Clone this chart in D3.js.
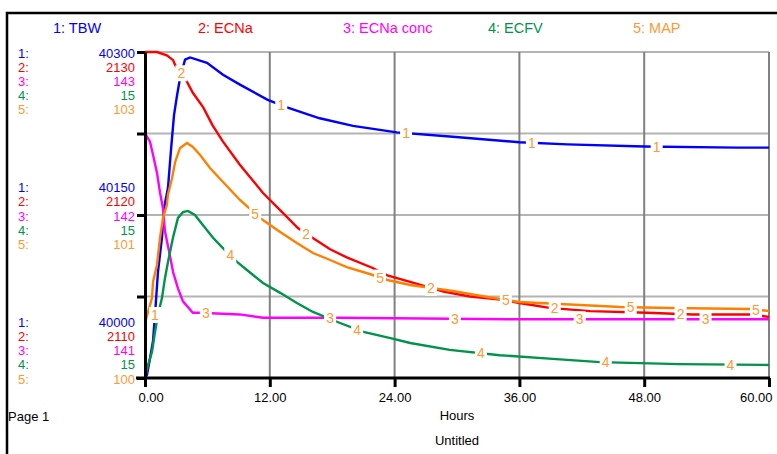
<!DOCTYPE html>
<html><head><meta charset="utf-8">
<script src="https://cdn.jsdelivr.net/npm/d3@7"></script>
<style>
body{margin:0;background:#fff;}
svg text{font-family:"Liberation Sans",Arial,sans-serif;}
</style>
</head><body><svg id="c" width="777" height="454"></svg>
<script>
// ---------- data ----------
const seriesNames = ["1: TBW","2: ECNa","3: ECNa conc","4: ECFV","5: MAP"];
const seriesColors = ["#0000ff","#ff0000","#ff00ff","#00934a","#ff8000"];
const textColors  = ["#0000ff","#ff0000","#ff00ff","#00934a","#ff9933"];

// axis domains (bottom, top) and printed tick labels (bottom, middle, top)
const tbwDomain = [40000, 40300];   const tbwLabels = ["40000","40150","40300"];
const ecnaDomain = [2110, 2130];    const ecnaLabels = ["2110","2120","2130"];
const concDomain = [141, 143];      const concLabels = ["141","142","143"];
const ecfvDomain = [14.6, 15.4];    const ecfvLabels = ["15","15","15"];
const mapDomain = [100, 103];       const mapLabels = ["100","101","103"];

const xTicks = [0, 12, 24, 36, 48, 60];
const xTickLabels = ["0.00","12.00","24.00","36.00","48.00","60.00"];

const tbwHours = [0,0.19,0.48,0.77,0.96,1.25,1.63,1.83,2.21,2.5,2.79,3.08,3.37,3.85,4.33,5.96,7.5,9.13,11.8,13.65,16.8,20,24.2,29.6,36,40.6,48,57,60];
const tbwValues = [40000,40003,40018,40034,40058,40098,40129,40156,40175,40210,40242,40260,40276,40293,40295,40290,40279,40270,40256,40249,40239,40232,40226,40222,40217,40215,40213,40212,40212];

const ecnaHours = [0,1.15,2.1,2.7,2.9,3.85,4.6,5.6,6.5,7.5,9.1,11.35,13.3,14.7,16.1,17.8,19.4,21.9,23.3,25.5,28.7,31.25,34.4,36,38.9,42.8,48.3,52.7,58.2,60];
const ecnaValues = [2130.0,2130.0,2129.8,2129.5,2129.2,2128.4,2127.5,2126.6,2125.5,2124.5,2123.1,2121.35,2120.1,2119.2,2118.6,2117.9,2117.4,2116.75,2116.3,2115.9,2115.3,2115.0,2114.8,2114.6,2114.3,2114.1,2114.0,2113.9,2113.9,2113.75];

const concHours = [0,0.48,0.77,1.15,1.44,1.73,1.92,2.4,2.7,3.17,3.65,4.6,5.3,9.1,11.35,18.5,34.8,60];
const concValues = [142.50,142.45,142.37,142.26,142.14,142.04,141.90,141.75,141.65,141.55,141.47,141.40,141.40,141.39,141.37,141.37,141.36,141.36];

const ecfvHours = [0,0.29,0.67,0.96,1.25,1.63,1.92,2.21,2.69,3.17,3.65,4.13,4.8,5.58,6.54,7.4,8.85,9.8,11.35,13,14.6,16.15,18.75,21,23.6,25.5,29.3,34.1,39.2,43.75,51.4,60];
const ecfvValues = [14.600,14.632,14.664,14.713,14.755,14.796,14.845,14.885,14.944,14.993,15.007,15.010,15.000,14.975,14.944,14.921,14.885,14.865,14.833,14.809,14.784,14.762,14.735,14.713,14.698,14.686,14.669,14.656,14.647,14.639,14.634,14.632];

const mapHours = [0,0.29,0.67,0.77,1.15,1.44,1.73,2.1,2.2,2.6,2.9,3.37,4.04,4.6,5.3,6.25,7.5,9.13,11.06,13,14.6,16.15,17.8,19.4,21.6,23.3,25.5,29.6,32.9,36,39.9,45.7,50.5,58.2,60];
const mapValues = [100.506,100.607,100.736,100.883,101.040,101.288,101.472,101.592,101.684,101.840,101.988,102.117,102.163,102.126,102.052,101.933,101.804,101.638,101.472,101.344,101.242,101.150,101.086,101.021,100.957,100.902,100.856,100.801,100.745,100.699,100.681,100.653,100.644,100.635,100.617];

// times (hours) at which each series' number label sits on its curve
const labelHours1 = [0.96, 13.1, 25.1, 37.2, 49.2];
const labelHours2 = [3.5, 15.5, 27.5, 39.4, 51.5];
const labelHours3 = [5.85, 17.8, 29.8, 41.8, 53.9];
const labelHours4 = [8.2, 20.4, 32.3, 44.3, 56.3];
const labelHours5 = [10.6, 22.6, 34.7, 46.7, 58.75];

// ---------- assemble ----------
const series = [
  {hours: tbwHours, values: tbwValues, domain: tbwDomain, labels: tbwLabels, lab: labelHours1},
  {hours: ecnaHours, values: ecnaValues, domain: ecnaDomain, labels: ecnaLabels, lab: labelHours2},
  {hours: concHours, values: concValues, domain: concDomain, labels: concLabels, lab: labelHours3},
  {hours: ecfvHours, values: ecfvValues, domain: ecfvDomain, labels: ecfvLabels, lab: labelHours4},
  {hours: mapHours, values: mapValues, domain: mapDomain, labels: mapLabels, lab: labelHours5}
];

const svg = d3.select("#c");
const X0 = 145, X1 = 769, YT = 52, YB = 378;
const x = d3.scaleLinear().domain([0, 60]).range([X0, X1]);
series.forEach(s => { s.y = d3.scaleLinear().domain(s.domain).range([YB, YT]); });
const frac = d3.scaleLinear().domain([0, 1]).range([YB, YT]);

// outer frame
svg.append("path").attr("d", `M7,454V13H777`).attr("fill","none").attr("stroke","#000").attr("stroke-width",2.5);

// legend
svg.append("g").selectAll("text").data(seriesNames).join("text")
  .attr("x", (d,i) => 53 + i*145).attr("y", 33)
  .attr("font-size", 14.5).attr("fill", (d,i) => textColors[i]).text(d => d);

// grid
const grid = svg.append("g");
grid.selectAll("line.h").data([0.25, 0.5, 0.75, 1]).join("line").attr("class","h")
  .attr("x1", X0).attr("x2", X1).attr("y1", d => frac(d)).attr("y2", d => frac(d))
  .attr("stroke", "#b4b4b4").attr("stroke-width", 2);
grid.selectAll("line.v").data(xTicks.slice(1)).join("line").attr("class","v")
  .attr("x1", d => x(d)).attr("x2", d => x(d)).attr("y1", YT).attr("y2", YB)
  .attr("stroke", "#808080").attr("stroke-width", 2);

// lines
series.forEach((s, i) => {
  const pts = s.hours.map((h, k) => [h, s.values[k]]);
  svg.append("path").datum(pts)
    .attr("fill", "none").attr("stroke", seriesColors[i]).attr("stroke-width", 2.4)
    .attr("stroke-linejoin", "miter")
    .attr("d", d3.line().x(d => x(d[0])).y(d => s.y(d[1])));
});

// number labels on curves
function interp(s, t) {
  const k = d3.bisectRight(s.hours, t);
  if (k <= 0) return s.values[0];
  if (k >= s.hours.length) return s.values[s.values.length - 1];
  const h0 = s.hours[k-1], h1 = s.hours[k];
  return s.values[k-1] + (s.values[k] - s.values[k-1]) * (t - h0) / (h1 - h0);
}
const lg = svg.append("g");
series.forEach((s, i) => {
  s.lab.forEach(t => {
    const cx = x(t), cy = s.y(interp(s, t));
    lg.append("rect").attr("x", cx - 6).attr("y", cy - 8).attr("width", 12).attr("height", 16).attr("fill", "#fff");
    lg.append("text").attr("x", cx).attr("y", cy + 5).attr("text-anchor", "middle")
      .attr("font-size", 14).attr("fill", "#ff9933").text(String(i + 1));
  });
});

// axes
const yAxis = d3.axisLeft(frac).tickValues([0, 0.25, 0.5, 0.75, 1]).tickSize(8).tickSizeOuter(0).tickFormat("");
const ya = svg.append("g").attr("transform", `translate(${X0},0)`).call(yAxis);
ya.selectAll("path,line").attr("stroke", "#000").attr("stroke-width", 3);

const xAxis = d3.axisBottom(x).tickValues(xTicks).tickSize(9).tickSizeOuter(0)
  .tickFormat((d,i) => xTickLabels[i]);
const xa = svg.append("g").attr("transform", `translate(0,${YB})`).call(xAxis);
xa.select(".domain").remove();
xa.append("line").attr("x1", 136).attr("x2", X1 + 1).attr("y1", 0).attr("y2", 0).attr("stroke","#000").attr("stroke-width",3);
xa.selectAll(".tick line").attr("stroke", "#000").attr("stroke-width", 3);
xa.selectAll(".tick text").attr("font-size", 13).attr("fill", "#000").attr("font-family", "Liberation Sans, Arial, sans-serif").attr("dy", "0.9em")
  .attr("y", 12)
  .attr("text-anchor", (d,i) => i === 0 ? "start" : (i === xTicks.length - 1 ? "end" : "middle"))
  .attr("x", (d,i) => i === 0 ? -7 : (i === xTicks.length - 1 ? 3 : 0));

// left stacked tick labels
const groups = [
  {f: 0, offset: -4},  // bottom group: last row on the tick
  {f: 0.5, offset: -2},// middle group: third row on the tick
  {f: 1, offset: 0}    // top group: first row on the tick
];
const ll = svg.append("g").attr("font-size", 13);
groups.forEach((g, gi) => {
  series.forEach((s, i) => {
    const yy = frac(g.f) + (i + g.offset) * 14.2 + 5.5;
    ll.append("text").attr("x", 18).attr("y", yy).attr("fill", textColors[i]).text((i + 1) + ":");
    ll.append("text").attr("x", 135).attr("y", yy).attr("text-anchor", "end").attr("fill", textColors[i]).text(s.labels[gi]);
  });
});

// bottom texts
svg.append("text").attr("x", 8).attr("y", 421).attr("font-size", 13).text("Page 1");
svg.append("text").attr("x", (X0 + X1) / 2).attr("y", 420).attr("text-anchor", "middle").attr("font-size", 13).text("Hours");
svg.append("text").attr("x", (X0 + X1) / 2).attr("y", 445).attr("text-anchor", "middle").attr("font-size", 13).text("Untitled");
</script>
</body></html>
